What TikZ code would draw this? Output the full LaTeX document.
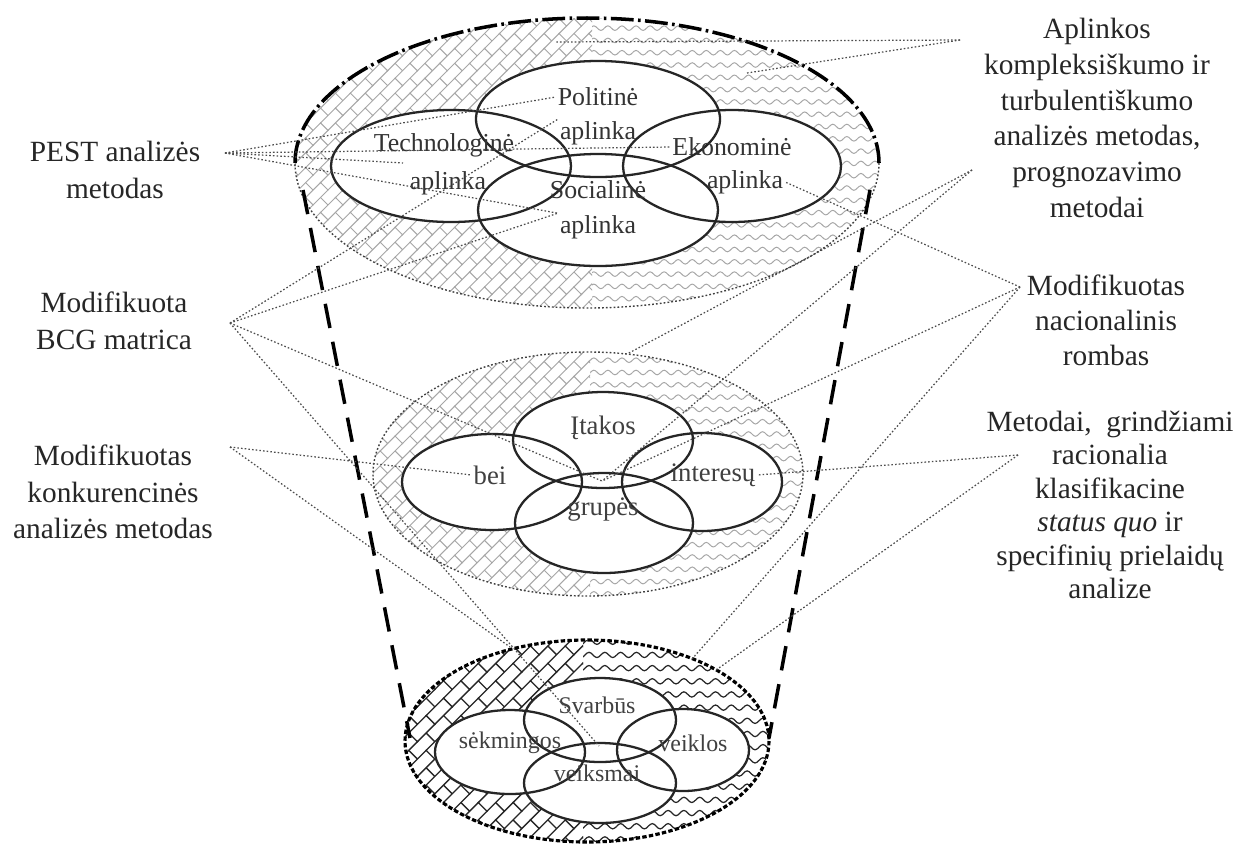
\documentclass[tikz,border=0pt]{standalone}
\usepackage{fontspec}
\setmainfont{Liberation Serif}
\usetikzlibrary{patterns.meta}

\pgfdeclarepattern{
  name=brickL, type=uncolored,
  bottom left={\pgfpoint{-1pt}{-1pt}},
  top right={\pgfpoint{13pt}{13pt}},
  tile size={\pgfpoint{12pt}{12pt}},
  tile transformation={\pgftransformrotate{45}},
  code={
    \pgfsetlinewidth{0.55pt}
    \pgfpathmoveto{\pgfpoint{-0.5pt}{0pt}}\pgfpathlineto{\pgfpoint{12.5pt}{0pt}}
    \pgfpathmoveto{\pgfpoint{-0.5pt}{6pt}}\pgfpathlineto{\pgfpoint{12.5pt}{6pt}}
    \pgfpathmoveto{\pgfpoint{0pt}{0pt}}\pgfpathlineto{\pgfpoint{0pt}{6pt}}
    \pgfpathmoveto{\pgfpoint{6pt}{6pt}}\pgfpathlineto{\pgfpoint{6pt}{12pt}}
    \pgfusepath{stroke}
  }
}
\pgfdeclarepattern{
  name=brickD, type=uncolored,
  bottom left={\pgfpoint{-1pt}{-1pt}},
  top right={\pgfpoint{15pt}{15pt}},
  tile size={\pgfpoint{14pt}{14pt}},
  tile transformation={\pgftransformrotate{45}},
  code={
    \pgfsetlinewidth{0.75pt}
    \pgfpathmoveto{\pgfpoint{-0.5pt}{0pt}}\pgfpathlineto{\pgfpoint{14.5pt}{0pt}}
    \pgfpathmoveto{\pgfpoint{-0.5pt}{7pt}}\pgfpathlineto{\pgfpoint{14.5pt}{7pt}}
    \pgfpathmoveto{\pgfpoint{0pt}{0pt}}\pgfpathlineto{\pgfpoint{0pt}{7pt}}
    \pgfpathmoveto{\pgfpoint{7pt}{7pt}}\pgfpathlineto{\pgfpoint{7pt}{14pt}}
    \pgfusepath{stroke}
  }
}
\pgfdeclarepattern{
  name=waveL, type=uncolored,
  bottom left={\pgfpoint{-1pt}{-1pt}},
  top right={\pgfpoint{9pt}{8pt}},
  tile size={\pgfpoint{8pt}{7pt}},
  code={
    \pgfsetlinewidth{0.55pt}
    \pgfpathmoveto{\pgfpoint{0pt}{3.5pt}}
    \pgfpathsine{\pgfpoint{2pt}{1.3pt}}
    \pgfpathcosine{\pgfpoint{2pt}{-1.3pt}}
    \pgfpathsine{\pgfpoint{2pt}{-1.3pt}}
    \pgfpathcosine{\pgfpoint{2pt}{1.3pt}}
    \pgfusepath{stroke}
  }
}
\pgfdeclarepattern{
  name=waveD, type=uncolored,
  bottom left={\pgfpoint{-1pt}{-1pt}},
  top right={\pgfpoint{10pt}{8.5pt}},
  tile size={\pgfpoint{9pt}{7.5pt}},
  code={
    \pgfsetlinewidth{0.7pt}
    \pgfpathmoveto{\pgfpoint{0pt}{3.75pt}}
    \pgfpathsine{\pgfpoint{2.25pt}{1.5pt}}
    \pgfpathcosine{\pgfpoint{2.25pt}{-1.5pt}}
    \pgfpathsine{\pgfpoint{2.25pt}{-1.5pt}}
    \pgfpathcosine{\pgfpoint{2.25pt}{1.5pt}}
    \pgfusepath{stroke}
  }
}

\begin{document}
\begin{tikzpicture}[x=0.02cm,y=-0.02cm,
  inner/.style={draw=black!85, line width=1.3pt},
  conn/.style={draw=black!70, line width=0.7pt, dash pattern=on 0.9pt off 1.2pt},
  cone/.style={draw=black, line width=2pt, dash pattern=on 14pt off 8pt},
  lbl/.style={align=center, font=\fontsize{16.7}{20.8}\selectfont, text=black!85, inner sep=0pt},
  lblR/.style={lbl, font=\fontsize{16.7}{20.3}\selectfont},
  lblR2/.style={lbl, font=\fontsize{16.7}{19.9}\selectfont},
  lblR3/.style={lbl, font=\fontsize{16.7}{19.1}\selectfont},
  tA/.style={font=\fontsize{14.7}{17}\selectfont, text=black!80, inner sep=1pt},
  tB/.style={font=\fontsize{15.2}{17}\selectfont, text=black!75, inner sep=1pt},
  tC/.style={font=\fontsize{13.6}{16}\selectfont, text=black!75, inner sep=1pt}
]
\useasboundingbox[fill=white] (0,0) rectangle (1239,846);

% ---------- outer regions with patterns
\begin{scope}
  \clip (587,163) ellipse [x radius=292, y radius=145];
  \fill[pattern=brickL, pattern color=gray!70] (280,0) rectangle (592,330);
  \fill[pattern=waveL, pattern color=gray!70] (592,0) rectangle (900,330);
\end{scope}
\begin{scope}
  \clip (588,474) ellipse [x radius=215, y radius=122];
  \fill[pattern=brickL, pattern color=gray!70] (360,340) rectangle (590,610);
  \fill[pattern=waveL, pattern color=gray!70] (590,340) rectangle (820,610);
\end{scope}
\begin{scope}
  \clip (587,741) ellipse [x radius=182, y radius=101];
  \fill[pattern=brickD, pattern color=black!85] (395,630) rectangle (583,850);
  \fill[pattern=waveD, pattern color=black!85] (583,630) rectangle (780,850);
\end{scope}

% outlines of outer regions
\draw[black, line width=2pt, dash pattern=on 13pt off 2.5pt on 1.5pt off 2.5pt]
  (295,163) arc[start angle=180, end angle=360, x radius=292, y radius=145];
\draw[black!75, line width=0.8pt, dash pattern=on 1pt off 1.2pt]
  (879,163) arc[start angle=0, end angle=180, x radius=292, y radius=145];
\draw[black!75, line width=0.8pt, dash pattern=on 1pt off 1.2pt]
  (588,474) ellipse [x radius=215, y radius=122];
\draw[black, line width=1.8pt, dash pattern=on 2.5pt off 1.3pt]
  (587,741) ellipse [x radius=182, y radius=101];

% cone
\coordinate (coneL1) at (303,190);
\coordinate (coneL2) at (410,738);
\coordinate (coneR1) at (870,190);
\coordinate (coneR2) at (769,738);
\draw[cone] (coneL1) -- (coneL2);
\draw[cone] (coneR1) -- (coneR2);

% ---------- inner ellipses: white fill first, then outlines
\fill[white] (598,119) ellipse [x radius=122, y radius=58];
\fill[white] (598,210) ellipse [x radius=120, y radius=56];
\fill[white] (451,166) ellipse [x radius=120, y radius=56];
\fill[white] (732,166) ellipse [x radius=109, y radius=56];
\draw[inner] (598,119) ellipse [x radius=122, y radius=58];
\draw[inner] (598,210) ellipse [x radius=120, y radius=56];
\draw[inner] (451,166) ellipse [x radius=120, y radius=56];
\draw[inner] (732,166) ellipse [x radius=109, y radius=56];

\fill[white] (603,440) ellipse [x radius=90, y radius=48];
\fill[white] (604,523) ellipse [x radius=89, y radius=50];
\fill[white] (492,482) ellipse [x radius=90, y radius=48];
\fill[white] (702,482) ellipse [x radius=80, y radius=49];
\draw[inner] (603,440) ellipse [x radius=90, y radius=48];
\draw[inner] (604,523) ellipse [x radius=89, y radius=50];
\draw[inner] (492,482) ellipse [x radius=90, y radius=48];
\draw[inner] (702,482) ellipse [x radius=80, y radius=49];

\fill[white] (600,720) ellipse [x radius=76, y radius=42];
\fill[white] (600,783) ellipse [x radius=76, y radius=40];
\fill[white] (510,752) ellipse [x radius=75, y radius=42];
\fill[white] (683,750) ellipse [x radius=66, y radius=41];
\draw[inner] (600,720) ellipse [x radius=76, y radius=42];
\draw[inner] (600,783) ellipse [x radius=76, y radius=40];
\draw[inner] (510,752) ellipse [x radius=75, y radius=42];
\draw[inner] (683,750) ellipse [x radius=66, y radius=41];

% ---------- texts inside
\node[tA] (pol1) at (598,97) {Politinė};
\node[tA] (pol2) at (598,133) {aplinka};
\node[tA] (tec1) at (444,145) {Technologinė};
\node[tA] (tec2) at (448,183) {aplinka};
\node[tA] (eko1) at (732,147) {Ekonominė};
\node[tA] (eko2) at (745,182) {aplinka};
\node[tA] (soc1) at (598,190) {Socialinė};
\node[tA] (soc2) at (598,227) {aplinka};

\node[tB] (ita) at (603,428) {Įtakos};
\node[tB] (bei) at (490,475) {bei};
\node[tB] (int) at (713,475) {interesų};
\node[tB] (gru) at (603,510) {grupės};

\node[tC] (sva) at (597,705) {Svarbūs};
\node[tC] (sek) at (510,743) {sėkmingos};
\node[tC] (vkl) at (693,743) {veiklos};
\node[tC] (vks) at (597,773) {veiksmai};

% ---------- labels
\node[lbl] (pest) at (115,170) {PEST analizės\\metodas};
\node[lbl] (bcg) at (114,321) {Modifikuota\\BCG matrica};
\node[lbl] (kon) at (113,492) {Modifikuotas\\konkurencinės\\analizės metodas};
\node[lblR] (apl) at (1097,118) {Aplinkos\\kompleksiškumo ir\\turbulentiškumo\\analizės metodas,\\prognozavimo\\metodai};
\node[lblR2] (nac) at (1106,320) {Modifikuotas\\nacionalinis\\rombas};
\node[lblR3] (met) at (1110,505) {Metodai,\ \ grindžiami\\racionalia\\klasifikacine\\\textit{status quo} ir\\specifinių prielaidų\\analize};

% ---------- connector ends
\coordinate (pestP) at (225,153);
\coordinate (bcgP) at (230,323);
\coordinate (konP) at (230,447);
\coordinate (aplP1) at (960,40);
\coordinate (aplP2) at (972,170);
\coordinate (nacP) at (1020,287);
\coordinate (metP) at (1018,455);
\coordinate (tecP) at (403,163);
\coordinate (midC) at (602,481);
\coordinate (botC) at (599,746);
\coordinate (botTL) at (510,647);
\coordinate (envA) at (556,42);
\coordinate (envB) at (747,73);
\coordinate (midTop) at (627,354);
\coordinate (botTR) at (692,659);
\coordinate (botR) at (716,670);

\draw[conn] (pestP) -- (pol1.west);
\draw[conn] (pestP) -- (tecP);
\draw[conn] (pestP) -- (eko1.west);
\draw[conn] (pestP) -- (soc2.north west);
\draw[conn] (bcgP) -- (pol2.north west);
\draw[conn] (bcgP) -- (soc2.north west);
\draw[conn] (bcgP) -- (midC);
\draw[conn] (bcgP) -- (botC);
\draw[conn] (konP) -- (bei.west);
\draw[conn] (konP) -- (botTL);
\draw[conn] (aplP1) -- (envA);
\draw[conn] (aplP1) -- (envB);
\draw[conn] (aplP2) -- (midTop);
\draw[conn] (aplP2) -- (midC);
\draw[conn] (nacP) -- (eko2.east);
\draw[conn] (nacP) -- (midC);
\draw[conn] (nacP) -- (botTR);
\draw[conn] (metP) -- (int.east);
\draw[conn] (metP) -- (botR);
\end{tikzpicture}
\end{document}
